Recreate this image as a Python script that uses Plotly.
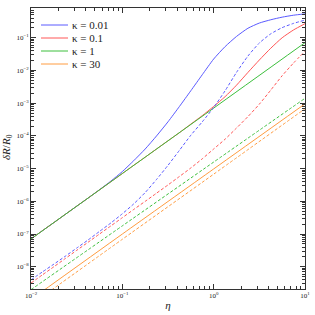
import plotly.graph_objects as go

# ---- data (curve values are log10(δR/R0)) ----
kappa_labels = ["κ = 0.01", "κ = 0.1", "κ = 1", "κ = 30"]
colors = ["#5a5aff", "#ff5656", "#3cbf3c", "#ff9c40"]

eta = [0.01, 0.0133, 0.0178, 0.0237, 0.0316, 0.0422, 0.0562, 0.075, 0.1, 0.133, 0.178,
       0.237, 0.316, 0.422, 0.562, 0.75, 1.0, 1.334, 1.778, 2.371, 3.162, 4.217, 5.623,
       7.499, 10]

# solid curves
log_k001_s = [-7.15, -6.9, -6.65, -6.4, -6.15, -5.9, -5.645, -5.38, -5.09, -4.76, -4.40,
              -4.0, -3.57, -3.1, -2.62, -2.13, -1.65, -1.27, -0.96, -0.71, -0.55, -0.45,
              -0.37, -0.31, -0.27]
log_k01_s = [-7.15, -6.9, -6.65, -6.4, -6.15, -5.9, -5.65, -5.4, -5.15, -4.9, -4.65,
             -4.4, -4.15, -3.9, -3.64, -3.38, -3.1, -2.8, -2.45, -2.06, -1.68, -1.32,
             -1.0, -0.76, -0.57]
eta_line = [0.01, 0.1, 1.0, 10]
log_k1_s = [-7.15, -5.15, -3.15, -1.15]
log_k30_s = [-9.0, -7.0, -5.01, -3.02]

# dashed curves
log_k001_d = [-8.4, -8.16, -7.92, -7.68, -7.43, -7.18, -6.92, -6.66, -6.38, -6.08, -5.73,
              -5.33, -4.9, -4.44, -3.98, -3.57, -3.13, -2.62, -2.06, -1.56, -1.16, -0.88,
              -0.69, -0.56, -0.46]
log_k01_d = [-8.5, -8.25, -8.0, -7.75, -7.5, -7.25, -7.0, -6.75, -6.5, -6.25, -6.0,
             -5.75, -5.5, -5.24, -4.98, -4.7, -4.4, -4.1, -3.76, -3.41, -3.03, -2.6,
             -2.16, -1.77, -1.41]
log_k1_d = [-8.7, -6.75, -4.8, -2.85]
log_k30_d = [-9.16, -7.16, -5.17, -3.17]

x_tickvals = [0.01, 0.1, 1, 10]
x_ticktext = ["10<sup>−2</sup>", "10<sup>−1</sup>", "10<sup>0</sup>", "10<sup>1</sup>"]
y_tickvals = [1e-8, 1e-7, 1e-6, 1e-5, 1e-4, 1e-3, 1e-2, 1e-1]
y_ticktext = ["10<sup>−8</sup>", "10<sup>−7</sup>", "10<sup>−6</sup>", "10<sup>−5</sup>",
              "10<sup>−4</sup>", "10<sup>−3</sup>", "10<sup>−2</sup>", "10<sup>−1</sup>"]
x_title = "<i>η</i>"
y_title = "<i>δR</i>/<i>R</i><sub>0</sub>"


def delta(logs):
    return [10 ** v for v in logs]


solid = [(eta, log_k001_s), (eta, log_k01_s), (eta_line, log_k1_s), (eta_line, log_k30_s)]
dashed = [(eta, log_k001_d), (eta, log_k01_d), (eta_line, log_k1_d), (eta_line, log_k30_d)]

fig = go.Figure()
for (x, ly), c, lab in zip(solid, colors, kappa_labels):
    fig.add_trace(go.Scatter(x=x, y=delta(ly), mode="lines", name=lab, showlegend=False,
                             line=dict(color=c, width=1, shape="spline", smoothing=0.6)))
for (x, ly), c, lab in zip(dashed, colors, kappa_labels):
    fig.add_trace(go.Scatter(x=x, y=delta(ly), mode="lines", name=lab, showlegend=False,
                             line=dict(color=c, width=1, dash="3px,2px", shape="spline",
                                       smoothing=0.6)))

minor_x = [m * 10 ** e for e in range(-2, 1) for m in range(2, 10)]
minor_y = [m * 10 ** e for e in range(-9, 0) for m in range(2, 10)]

axis_common = dict(type="log", showgrid=False, zeroline=False, showline=True, automargin=False,
                   linecolor="#333", linewidth=1, mirror="allticks", ticks="inside",
                   ticklen=5, tickcolor="#333", tickwidth=1,
                   tickfont=dict(family="Liberation Serif", size=7, color="#222"))

fig.update_xaxes(**axis_common, range=[-2, 1], tickmode="array",
                 tickvals=x_tickvals, ticktext=x_ticktext,
                 minor=dict(tickmode="array", tickvals=minor_x, ticks="inside", ticklen=3,
                            tickcolor="#333", showgrid=False),
                 title=dict(text=x_title,
                            font=dict(family="Liberation Serif", size=11, color="#222"),
                            standoff=1))
fig.update_yaxes(**axis_common, range=[-8.68, -0.09], tickmode="array",
                 tickvals=y_tickvals, ticktext=y_ticktext,
                 minor=dict(tickmode="array", tickvals=minor_y, ticks="inside", ticklen=3,
                            tickcolor="#333", showgrid=False))

plot_top, plot_bottom, plot_left, plot_w = 8, 289, 31, 274

# y-axis title as a rotated text
fig.add_annotation(xref="paper", yref="paper", x=(7 - plot_left) / plot_w,
                   y=(plot_bottom - 147) / (plot_bottom - plot_top),
                   xanchor="center", yanchor="middle", textangle=-90, showarrow=False,
                   text=y_title, font=dict(family="Liberation Serif", size=11, color="#222"))

# legend drawn as sample lines + text (tight spacing like the reference)
legend_rows_px = [25, 38, 51, 64]
for row, c, lab in zip(legend_rows_px, colors, kappa_labels):
    yp = (plot_bottom - row) / (plot_bottom - plot_top)
    fig.add_shape(type="line", xref="paper", yref="paper",
                  x0=(41 - plot_left) / plot_w, x1=(68 - plot_left) / plot_w, y0=yp, y1=yp,
                  line=dict(color=c, width=1))
    fig.add_annotation(xref="paper", yref="paper", x=(70 - plot_left) / plot_w, y=yp,
                       xanchor="left", yanchor="middle", showarrow=False, text=lab,
                       font=dict(family="Liberation Serif", size=11, color="#222"))

fig.update_layout(
    width=315, height=315,
    margin=dict(l=31, r=10, t=8, b=26),
    paper_bgcolor="white", plot_bgcolor="white",
    showlegend=False,
)

# remove the default page margin so the figure sits at the window's top-left corner
fig.write_html("out.html", config={"displayModeBar": False},
               post_script="document.body.style.margin='0px';")
